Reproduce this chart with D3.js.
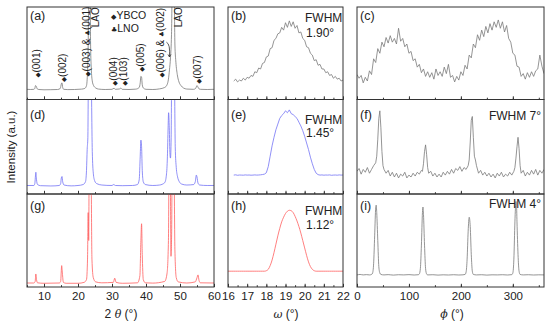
<!DOCTYPE html>
<html>
<head>
<meta charset="utf-8">
<script src="https://cdn.jsdelivr.net/npm/d3@7"></script>
<style>
  body { margin: 0; background: #fff; }
  svg { font-family: "Liberation Sans", Arial, sans-serif; }
</style>
</head>
<body>
<svg id="chart" width="550" height="327"></svg>
<script>
// ---- data (y = intensity in % of panel height) ----
// XRD theta-2theta scans
const xrdA = [[5,11],[6,10.8],[7,11],[7.3,12],[7.5,15],[7.7,14.5],[8,11.5],[8.5,10.8],[10,10.5],[12,10.6],[14,10.8],[14.8,12],[15.1,17],[15.3,18],[15.5,13],[15.8,11],[17,10.7],[19,10.8],[21,11.2],[22,12],[22.5,15],[22.8,30],[23.0,60],[23.2,140],[23.5,140],[23.7,60],[23.9,34],[24.2,20],[24.6,15],[25.2,12.5],[26,11.3],[28,10.8],[30,11],[30.6,12.2],[31,11],[32.3,11.4],[32.6,12.5],[33,11],[35,10.8],[37,11.2],[38,13],[38.3,18],[38.5,25],[38.7,24],[38.9,16],[39.2,12.5],[40,11],[42,10.8],[44,11.5],[45.5,13],[46.2,16],[46.6,22],[46.9,32],[47.2,45],[47.5,70],[47.8,140],[48.2,140],[48.5,60],[48.8,40],[49.2,27],[49.7,19],[50.3,15],[51,12.5],[52,11.3],[54,11],[54.6,12],[55,15],[55.2,14],[55.6,11.5],[56,11],[58,10.8],[60,11]];
const xrdD = [[5,9],[7,9],[7.3,11],[7.5,20],[7.6,23],[7.8,15],[8.1,10],[9,8.8],[12,8.5],[14.5,9],[14.9,11],[15.1,17],[15.3,18.5],[15.5,13],[15.9,9.5],[18,8.6],[20,9],[21.5,10],[22.2,13],[22.5,25],[22.7,47],[22.9,60],[23.1,140],[23.8,140],[24.2,45],[24.5,22],[24.9,14],[25.5,11],[27,9.5],[30,9],[30.5,10],[31,9],[33,8.8],[36,9],[37.5,10],[38,15],[38.3,40],[38.5,57],[38.7,50],[38.9,25],[39.2,13],[39.8,10],[42,9],[44,9.5],[45.5,12],[46,20],[46.3,40],[46.5,70],[46.65,86],[46.85,70],[47.05,42],[47.2,38],[47.4,60],[47.6,140],[48.3,140],[48.6,50],[48.9,28],[49.3,18],[49.8,13],[50.5,10.5],[52,9.5],[54,10],[54.5,13],[54.8,20],[55,18],[55.3,11.5],[55.8,9.5],[58,9],[60,9]];
const xrdG = [[5,4.3],[7,4.3],[7.4,6],[7.6,14],[7.8,8],[8.1,4.5],[10,4],[14.5,4.3],[14.9,6],[15.2,23],[15.4,15],[15.7,5],[16.5,4],[20,4],[21.8,5],[22.5,8],[22.8,30],[23.0,80],[23.15,50],[23.3,140],[23.8,140],[24.1,30],[24.5,10],[25.2,5.5],[27,4.5],[30.4,5],[30.8,9.5],[31.2,5],[33,4],[37.5,4.5],[38.2,12],[38.5,50],[38.7,68],[38.9,35],[39.2,8],[39.8,4.5],[42,4.2],[45.5,6],[46.2,15],[46.6,50],[46.8,140],[47.1,140],[47.35,33],[47.55,60],[47.7,140],[48.2,140],[48.5,40],[48.9,10],[49.5,5.5],[52,4.3],[54.5,5.5],[55,10],[55.3,13],[55.6,7],[56,4.5],[60,4.3]];

// omega rocking curves, omega = start + 0.1 * i
const omegaB0 = 16.3;
const rockB = [20,22,19,21,20,23,21,24,23,26,25,30,29,34,33,39,40,46,47,55,56,64,66,71,72,78,75,83,78,85,79,84,77,80,72,73,66,64,57,56,50,48,42,43,37,38,33,33,29,30,26,27,23,25,22,23,20,21];
const rockE = [20,20.3,19.8,20.1,20,19.9,20.2,20,20.1,19.9,20,20.2,20,20.1,20.3,20.6,21,22.5,29,40,51,60,68,74,80,83,85,88,86,89,85,84,82,80,76,72,67,61,54,47,39,32,26,22,20.5,20,20.2,19.9,20.1,20,20.2,19.8,20,20.1,19.9,20.2,20,20.1];
const omegaH0 = 16.0;
const rockH = [17,17,17,17,17,17,17,17,17,17,17,17,17,17,17,17,17,17,17,17,17.5,19,23,29,37,46,55,63,70,75,79,81.5,82.5,82,80,76,71,65,58,50,42,34,27,22,19,17.5,17,17,17,17,17,17,17,17,17,17,17,17,17,17,17];

// phi scans
const phiStep = 4;
const phiC = [27,23,26,18,24,20,31,27,44,40,55,50,62,57,67,61,69,62,66,60,77,63,66,57,60,50,52,42,44,35,38,29,33,25,30,24,29,22,33,26,30,25,35,28,38,24,26,19,25,21,30,26,37,33,48,45,60,56,70,64,75,68,79,72,82,75,84,78,86,77,84,73,80,66,62,50,48,36,35,25,28,22,29,24,30,25,31,33,48,36,28];
const phiF = [[0,24],[4,27],[8,21],[12,26],[16,23],[20,28],[24,22],[28,26],[32,30],[36,33],[38,40],[40,58],[42,80],[44,88],[46,70],[48,45],[50,30],[52,26],[56,22],[60,25],[64,19],[68,23],[72,18],[76,22],[80,17],[84,21],[88,19],[92,23],[96,17],[100,20],[104,18],[108,22],[112,19],[116,23],[120,21],[124,25],[126,24],[128,32],[130,45],[132,52],[134,42],[136,28],[138,22],[142,24],[146,19],[150,22],[154,18],[158,21],[162,18],[166,23],[170,20],[174,24],[178,21],[182,26],[186,22],[190,27],[194,25],[198,29],[202,24],[206,28],[210,26],[214,30],[216,36],[218,55],[220,78],[222,82],[224,60],[226,40],[228,36],[230,30],[234,22],[238,25],[242,20],[246,23],[250,19],[254,22],[258,18],[262,21],[266,17],[270,22],[274,19],[278,23],[282,18],[286,21],[290,19],[294,23],[298,20],[302,24],[304,28],[306,38],[308,50],[310,60],[312,48],[314,30],[316,22],[320,25],[324,19],[328,23],[332,20],[336,25],[340,21],[344,26],[348,20],[352,25],[356,22],[360,26]];
const phiI = [[0,13],[6,13.5],[12,13],[18,13.3],[24,13],[28,13.5],[30,15],[32,25],[34,55],[36,85],[37,88],[38,80],[40,50],[42,22],[44,15],[46,13.5],[52,13],[60,13.3],[70,12.8],[80,13.2],[90,13],[100,13.3],[110,12.9],[118,13.2],[120,14],[122,20],[124,45],[126,80],[127,86],[128,78],[130,45],[132,20],[134,14],[136,13],[146,13.2],[156,12.8],[166,13.1],[176,12.9],[186,13.2],[196,12.9],[204,13.1],[208,13.5],[210,16],[212,30],[214,60],[216,75],[218,65],[220,35],[222,17],[224,13.5],[230,13],[240,13.2],[250,12.8],[260,13.1],[270,13],[280,13.2],[290,12.9],[298,13.3],[300,15],[302,30],[304,70],[306,92],[307,90],[308,70],[310,35],[312,17],[314,13.5],[320,13],[330,13.2],[340,12.9],[350,13.1],[360,13]];

// peak annotations of panel (a): [text, 2theta, bottom of text in %]
const peakLabels = [
  ["\u25C6(001)", 7.8, 23.7],
  ["\u25C6(002)", 15.3, 19],
  ["\u25C6(003) & \u2663(001)", 22.6, 25],
  ["LAO", 25.0, 78],
  ["\u25C6(004)", 30.3, 15],
  ["\u25C6(103)", 33.5, 15],
  ["\u25C6(005)", 38.5, 30],
  ["\u25C6(006) & \u2663(002)", 44.4, 23.7],
  ["LAO", 49.7, 78],
  ["\u25C6(007)", 55.0, 17]
];
const legendA = ["\u25C6YBCO", "\u2663LNO"];
const fwhmText = { b: ["FWHM", "1.90\u00B0"], e: ["FWHM", "1.45\u00B0"], h: ["FWHM", "1.12\u00B0"], f: ["FWHM 7\u00B0"], i: ["FWHM 4\u00B0"] };

// ---- layout ----
const grey = "#7a7a7a", blue = "#7373f5", red = "#ff6060";
const svg = d3.select("#chart");
const cols = [
  { x0: 27, x1: 214, dom: [5, 60], major: d3.range(10, 61, 10), minor: d3.range(5, 61, 5) },
  { x0: 228, x1: 343, dom: [16, 22], major: d3.range(16, 23, 1), minor: d3.range(16, 22.01, 0.5) },
  { x0: 357, x1: 544, dom: [0, 360], major: [0, 100, 200, 300], minor: d3.range(0, 361, 50) }
];
const rowY = [7, 99.5, 194, 287];
const labelOff = [13, 19, 15.5];

// write a string, drawing the crystal symbols a little smaller
function symText(sel, str, size, symSize) {
  str.split(/([\u25C6\u2663])/).filter(s => s.length).forEach(s => {
    const isSym = s === "\u25C6" || s === "\u2663";
    sel.append("tspan").attr("font-size", isSym ? symSize : size)
      .attr("font-family", isSym ? "DejaVu Sans, sans-serif" : null).text(s);
  });
}

const omegaPts = (arr, start) => arr.map((v, i) => [start + 0.1 * i, v]);
const panels = [
  { id: "a", c: 0, r: 0, data: xrdA, color: grey, smooth: true },
  { id: "b", c: 1, r: 0, data: omegaPts(rockB, omegaB0), color: grey },
  { id: "c", c: 2, r: 0, data: phiC.map((v, i) => [i * phiStep, v]), color: grey },
  { id: "d", c: 0, r: 1, data: xrdD, color: blue, smooth: true },
  { id: "e", c: 1, r: 1, data: omegaPts(rockE, omegaB0), color: blue },
  { id: "f", c: 2, r: 1, data: phiF, color: grey },
  { id: "g", c: 0, r: 2, data: xrdG, color: red, smooth: true },
  { id: "h", c: 1, r: 2, data: omegaPts(rockH, omegaH0), color: red, smooth: true },
  { id: "i", c: 2, r: 2, data: phiI, color: grey, smooth: true }
];

panels.forEach(p => {
  const col = cols[p.c];
  const top = rowY[p.r], bottom = rowY[p.r + 1];
  const x = d3.scaleLinear().domain(col.dom).range([col.x0, col.x1]);
  const y = d3.scaleLinear().domain([0, 100]).range([bottom, top]);
  p.x = x; p.y = y;

  svg.append("clipPath").attr("id", "clip-" + p.id)
    .append("rect").attr("x", col.x0).attr("y", top)
    .attr("width", col.x1 - col.x0).attr("height", bottom - top);

  const line = d3.line().x(d => x(d[0])).y(d => y(d[1]));
  if (p.smooth) line.curve(d3.curveMonotoneX);
  svg.append("path").datum(p.data)
    .attr("clip-path", "url(#clip-" + p.id + ")")
    .attr("fill", "none").attr("stroke", p.color).attr("stroke-width", 0.8)
    .attr("d", line);

  // ticks (inward)
  const gMin = svg.append("g").attr("transform", "translate(0," + bottom + ")")
    .call(d3.axisBottom(x).tickValues(col.minor).tickSize(-1.8).tickFormat(""));
  gMin.select(".domain").remove();
  const gMaj = svg.append("g").attr("transform", "translate(0," + bottom + ")")
    .call(d3.axisBottom(x).tickValues(col.major).tickSize(-3.2).tickPadding(5)
      .tickFormat(p.r === 2 ? d3.format("d") : ""));
  gMaj.select(".domain").remove();
  svg.selectAll("g .tick line").attr("stroke", "#333");
  gMaj.selectAll("text").attr("font-size", 11.5).attr("fill", "#222")
    .attr("font-family", "Liberation Sans, Arial, sans-serif");

  svg.append("rect").attr("x", col.x0).attr("y", top)
    .attr("width", col.x1 - col.x0).attr("height", bottom - top)
    .attr("fill", "none").attr("stroke", "#333").attr("stroke-width", 1);

  svg.append("text").attr("x", col.x0 + 3).attr("y", top + labelOff[p.r])
    .attr("font-size", 12.5).attr("fill", "#222").text("(" + p.id + ")");
});

// FWHM notes
const pan = id => panels.find(p => p.id === id);
[["b", 15, 30], ["e", 24.5, 37.5], ["h", 20.5, 34.5]].forEach(([id, o1, o2]) => {
  const p = pan(id), top = rowY[p.r];
  svg.append("text").attr("x", 305).attr("y", top + o1).attr("font-size", 12).attr("fill", "#222").text(fwhmText[id][0]);
  svg.append("text").attr("x", 306).attr("y", top + o2).attr("font-size", 12).attr("fill", "#222").text(fwhmText[id][1]);
});
[["f", 20], ["i", 13.5]].forEach(([id, o]) => {
  const p = pan(id), top = rowY[p.r];
  svg.append("text").attr("x", 541).attr("y", top + o).attr("text-anchor", "end")
    .attr("font-size", 12).attr("fill", "#222").text(fwhmText[id][0]);
});

// panel (a) annotations
const pa = pan("a");
peakLabels.forEach(([t, px, py]) => {
  const txt = svg.append("text")
    .attr("transform", "translate(" + (pa.x(px) + 3.5) + "," + pa.y(py) + ") rotate(-90)")
    .attr("fill", "#222");
  symText(txt, t, 10, 6.5);
});
legendA.forEach((t, i) => {
  const txt = svg.append("text").attr("x", 111).attr("y", 19 + i * 13).attr("fill", "#222");
  symText(txt, t, 10.5, 7);
});
svg.append("path")
  .attr("d", "M" + pa.x(46.0) + "," + pa.y(62) + " Q" + pa.x(47.2) + "," + pa.y(60) + " " + pa.x(46.9) + "," + pa.y(46))
  .attr("fill", "none").attr("stroke", "#333").attr("stroke-width", 0.8);
svg.append("path")
  .attr("d", "M" + (pa.x(46.9) - 1.5) + "," + (pa.y(46) - 2.5) + " L" + pa.x(46.9) + "," + pa.y(46) + " L" + (pa.x(46.9) + 1.5) + "," + (pa.y(46) - 2.5))
  .attr("fill", "none").attr("stroke", "#333").attr("stroke-width", 0.8);

// axis titles
const t1 = svg.append("text").attr("x", 121).attr("y", 318).attr("text-anchor", "middle").attr("font-size", 12).attr("fill", "#222");
t1.append("tspan").text("2 ");
t1.append("tspan").attr("font-style", "italic").attr("font-family", "DejaVu Serif, serif").attr("font-size", 11).text("\u03B8");
t1.append("tspan").text(" (\u00B0)");
const t2 = svg.append("text").attr("x", 286).attr("y", 318).attr("text-anchor", "middle").attr("font-size", 12).attr("fill", "#222");
t2.append("tspan").attr("font-style", "italic").attr("font-family", "DejaVu Serif, serif").attr("font-size", 11).text("\u03C9");
t2.append("tspan").text(" (\u00B0)");
const t3 = svg.append("text").attr("x", 452).attr("y", 318).attr("text-anchor", "middle").attr("font-size", 12).attr("fill", "#222");
t3.append("tspan").attr("font-style", "italic").attr("font-family", "DejaVu Serif, serif").attr("font-size", 11).text("\u03D5");
t3.append("tspan").text(" (\u00B0)");

svg.append("text").attr("transform", "translate(14.5,147) rotate(-90)")
  .attr("text-anchor", "middle").attr("font-size", 11.5).attr("fill", "#222").text("Intensity (a.u.)");
</script>
</body>
</html>
